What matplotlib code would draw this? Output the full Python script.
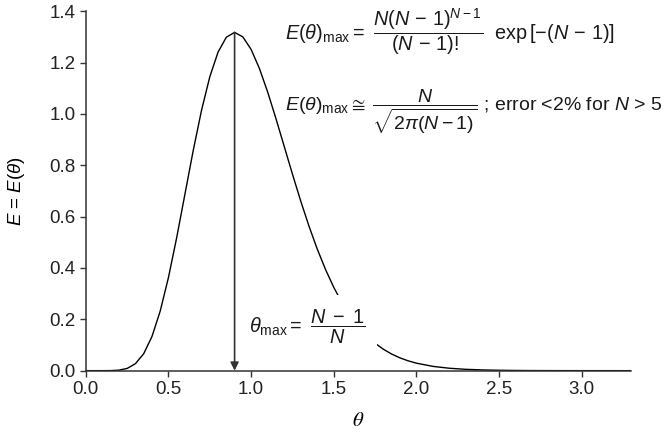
import numpy as np
import matplotlib
matplotlib.use("Agg")
import matplotlib.pyplot as plt

# values
theta = [0.00, 0.05, 0.10, 0.15, 0.20, 0.25, 0.30, 0.35, 0.40, 0.45,
         0.50, 0.55, 0.60, 0.65, 0.70, 0.75, 0.80, 0.85, 0.90, 0.95,
         1.00, 1.05, 1.10, 1.15, 1.20, 1.25, 1.30, 1.35, 1.40, 1.45,
         1.50, 1.55, 1.60, 1.65, 1.70, 1.75, 1.80, 1.85, 1.90, 1.95,
         2.00, 2.10, 2.20, 2.30, 2.40, 2.50, 2.60, 2.70, 2.80, 2.90,
         3.00, 3.10, 3.20, 3.30]
E_theta = [0.0, 0.0, 0.00001, 0.00024, 0.0019, 0.0086, 0.0270, 0.0656, 0.1323, 0.2316,
           0.3627, 0.5187, 0.6884, 0.8581, 1.0140, 1.1444, 1.2408, 1.2987, 1.3176, 1.3000,
           1.2511, 1.1772, 1.0853, 0.9820, 0.8737, 0.7652, 0.6605, 0.5627, 0.4734, 0.3938,
           0.3241, 0.2640, 0.2131, 0.1705, 0.1353, 0.1065, 0.0833, 0.0646, 0.0498, 0.0382,
           0.0291, 0.0166, 0.0093, 0.0051, 0.0028, 0.0015, 0.00076, 0.00039, 0.0002, 0.0001,
           0.00005, 0.00002, 0.00001, 0.0]
xticks = [0.0, 0.5, 1.0, 1.5, 2.0, 2.5, 3.0]
yticks = [0.0, 0.2, 0.4, 0.6, 0.8, 1.0, 1.2, 1.4]

plt.rcParams['font.family'] = 'Liberation Sans'
plt.rcParams['mathtext.fontset'] = 'custom'
plt.rcParams['mathtext.rm'] = 'Liberation Sans'
plt.rcParams['mathtext.it'] = 'Liberation Sans:italic'
plt.rcParams['font.size'] = 13.5
plt.rcParams['xtick.direction'] = 'out'
plt.rcParams['ytick.direction'] = 'out'

fig = plt.figure(figsize=(6.7, 4.32), dpi=100)
ax = fig.add_axes([0.128, 0.142, 0.8145, 0.832])

ax.plot(theta, E_theta, color='black', lw=1.0, zorder=2)

# arrow from the peak down to the axis
i_max = int(np.argmax(E_theta))
ax.annotate('', xy=(theta[i_max], 0), xytext=(theta[i_max], E_theta[i_max]),
            arrowprops=dict(arrowstyle='-|>', color='#333333', lw=1.2,
                            mutation_scale=12, shrinkA=0, shrinkB=0),
            zorder=5)

fs = 14.3
ax.text(1.205, 1.316,
        r'$E(\theta)_{\rm max} = \ \dfrac{N(N\,-\,1)^{N-1}}{(N\,-\,1)!}\ \ \mathrm{exp}\,[-(N\,-\,1)]$',
        ha='left', va='center', fontsize=fs, color='#1a1a1a')
ax.text(1.205, 1.01,
        r'$E(\theta)_{\rm max} \cong\; \dfrac{N}{\sqrt{2\pi(N-1)}}$ ; error <2% for $N$ > 5',
        ha='left', va='center', fontsize=14, color='#1a1a1a')
ax.text(0.985, 0.172, r'$\theta_{\rm max} = \ \dfrac{N\;-\;1}{N}$',
        ha='left', va='center', fontsize=fs, color='#1a1a1a', zorder=4,
        bbox=dict(boxstyle='square,pad=0.6', facecolor='white', edgecolor='none'))

ax.set_xlim(0, 3.3)
ax.set_ylim(0, 1.4)
ax.set_xticks(xticks)
ax.set_yticks(yticks)
ax.set_xticklabels([f'{v:.1f}' for v in xticks])
ax.set_yticklabels([f'{v:.1f}' for v in yticks])
ax.tick_params(length=4, width=1.0, colors='#333333', labelcolor='#222222', labelsize=13.5)
for s in ['top', 'right']:
    ax.spines[s].set_visible(False)
for s in ['left', 'bottom']:
    ax.spines[s].set_color('#333333')
    ax.spines[s].set_linewidth(1.1)

ax.set_xlabel(r'$\theta$', fontsize=15, labelpad=9, math_fontfamily='stix')
ax.set_ylabel(r'$E$ = $E(\theta)$', fontsize=13.5, labelpad=16)

fig.savefig('out.png', dpi=100)
